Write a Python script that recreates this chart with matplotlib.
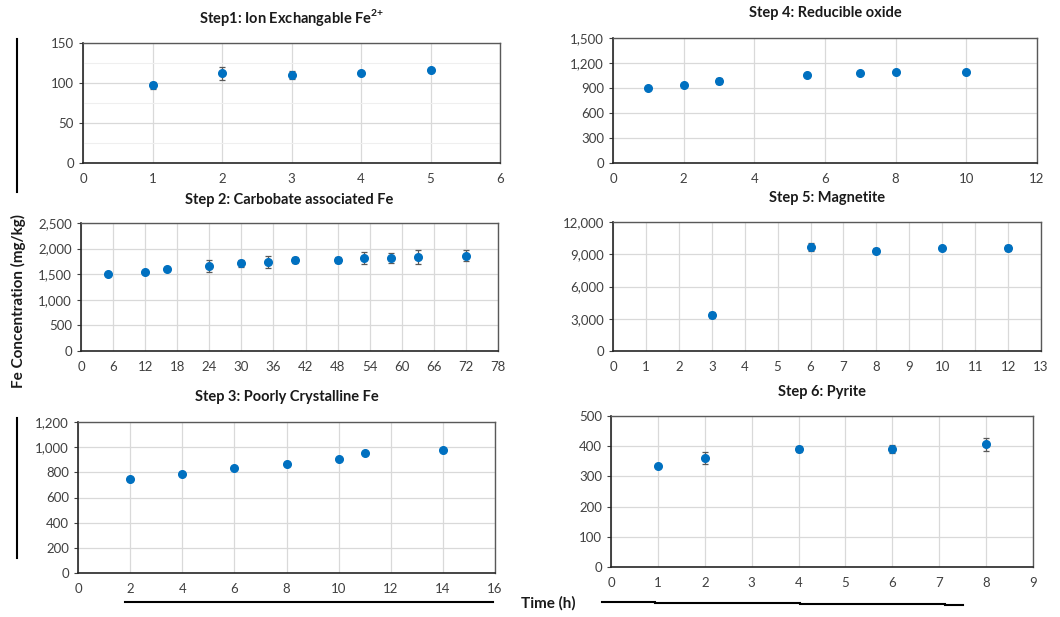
import matplotlib
matplotlib.use('Agg')
import matplotlib.pyplot as plt
from matplotlib.lines import Line2D
from matplotlib.ticker import FuncFormatter, MultipleLocator

plt.rcParams['font.family'] = ['Lato', 'DejaVu Sans']
plt.rcParams['mathtext.fontset'] = 'custom'
plt.rcParams['mathtext.rm'] = 'Lato'
plt.rcParams['mathtext.bf'] = 'Lato:bold'

# Step 1: Ion exchangeable Fe2+
s1_time = [1, 2, 3, 4, 5]
s1_conc = [97, 112, 110, 113, 116]
s1_err = [4, 8, 5, 2, 2]

# Step 2: Carbonate associated Fe
s2_time = [5, 12, 16, 24, 30, 35, 40, 48, 53, 58, 63, 72]
s2_conc = [1510, 1550, 1605, 1655, 1710, 1740, 1775, 1775, 1820, 1820, 1835, 1865]
s2_err = [20, 20, 40, 120, 75, 120, 55, 55, 115, 100, 130, 105]

# Step 3: Poorly crystalline Fe
s3_time = [2, 4, 6, 8, 10, 11, 14]
s3_conc = [744, 789, 837, 869, 906, 951, 975]
s3_err = [15, 10, 12, 12, 8, 8, 8]

# Step 4: Reducible oxide
s4_time = [1, 2, 3, 5.5, 7, 8, 10]
s4_conc = [905, 938, 980, 1052, 1078, 1098, 1098]
s4_err = [12, 12, 35, 12, 12, 12, 10]

# Step 5: Magnetite
s5_time = [3, 6, 8, 10, 12]
s5_conc = [3350, 9660, 9320, 9570, 9570]
s5_err = [250, 350, 250, 120, 250]

# Step 6: Pyrite
s6_time = [1, 2, 4, 6, 8]
s6_conc = [336, 361, 390, 390, 406]
s6_err = [5, 19, 10, 13, 22]

W, H = 1060, 617
BLUE = '#0070C0'


def px_rect(left, top, right, bottom):
    return [left / W, 1 - bottom / H, (right - left) / W, (bottom - top) / H]


def draw_panel(fig, rect, x, y, err, title, title_y, xmax, xstep, ymax, ystep, minor=None):
    ax = fig.add_axes(px_rect(*rect))
    ax.errorbar(x, y, yerr=err, fmt='o', color=BLUE, markersize=5.5,
                ecolor='#595959', elinewidth=0.9, capsize=2, capthick=0.9, zorder=3)
    ax.set_xlim(0, xmax)
    ax.set_ylim(0, ymax)
    ax.xaxis.set_major_locator(MultipleLocator(xstep))
    ax.yaxis.set_major_locator(MultipleLocator(ystep))
    ax.yaxis.set_major_formatter(FuncFormatter(lambda v, p: f'{v:,.0f}'))
    ax.grid(True, which='major', color='#d9d9d9', linewidth=0.9, zorder=0)
    if minor:
        ax.yaxis.set_minor_locator(MultipleLocator(minor))
        ax.grid(True, which='minor', axis='y', color='#efefef', linewidth=0.8, zorder=0)
        ax.tick_params(axis='y', which='minor', length=0)
    ax.set_axisbelow(True)
    for side in ['top', 'right']:
        ax.spines[side].set_color('#595959')
        ax.spines[side].set_linewidth(1.0)
    for side in ['left', 'bottom']:
        ax.spines[side].set_color('#262626')
        ax.spines[side].set_linewidth(1.2)
    ax.tick_params(axis='both', labelsize=9.5, colors='#404040', length=3, width=0.8)
    ax.tick_params(axis='x', length=0, pad=7)
    cx = (rect[0] + rect[2]) / 2 / W
    fig.text(cx, 1 - title_y / H, title, ha='center', va='center',
             fontsize=10.5, fontweight='bold', color='#1a1a1a')
    return ax


fig = plt.figure(figsize=(W / 100, H / 100), dpi=100)

draw_panel(fig, (83, 43, 500, 163), s1_time, s1_conc, s1_err,
           r'Step1: Ion Exchangable Fe$^{\mathbf{2{+}}}$', 17, 6, 1, 150, 50, minor=25)
draw_panel(fig, (81, 223, 498, 351), s2_time, s2_conc, s2_err,
           'Step 2: Carbobate associated Fe', 200, 78, 6, 2500, 500)
draw_panel(fig, (78, 422, 495, 573), s3_time, s3_conc, s3_err,
           'Step 3: Poorly Crystalline Fe', 397, 16, 2, 1200, 200)
draw_panel(fig, (613, 38, 1037, 163), s4_time, s4_conc, s4_err,
           'Step 4: Reducible oxide', 13, 12, 2, 1500, 300)
draw_panel(fig, (613, 222, 1041, 351), s5_time, s5_conc, s5_err,
           'Step 5: Magnetite', 198, 13, 1, 12000, 3000)
draw_panel(fig, (611, 416, 1033, 567), s6_time, s6_conc, s6_err,
           'Step 6: Pyrite', 392, 9, 1, 500, 100)

# shared axis labels
fig.text(18 / W, 1 - 301 / H, 'Fe Concentration (mg/kg)', rotation=90,
         ha='center', va='center', fontsize=11, fontweight='bold', color='#1a1a1a')
fig.text(548 / W, 1 - 603 / H, 'Time (h)', ha='center', va='center',
         fontsize=11, fontweight='bold', color='#1a1a1a')

# decorative rule lines from the original figure
def fig_line(xs, ys, lw=1.5):
    fig.add_artist(Line2D([v / W for v in xs], [1 - v / H for v in ys],
                          color='black', linewidth=lw))

fig_line([16.5, 16.5], [39, 192])
fig_line([16.5, 16.5], [418, 558])
fig_line([125, 493], [602, 602])
fig_line([602, 655], [601.5, 601.5])
fig_line([655, 800], [602.5, 602.5])
fig_line([800, 945], [603.5, 603.5])
fig_line([945, 963], [604.5, 604.5])

fig.savefig('out.png', dpi=100)
